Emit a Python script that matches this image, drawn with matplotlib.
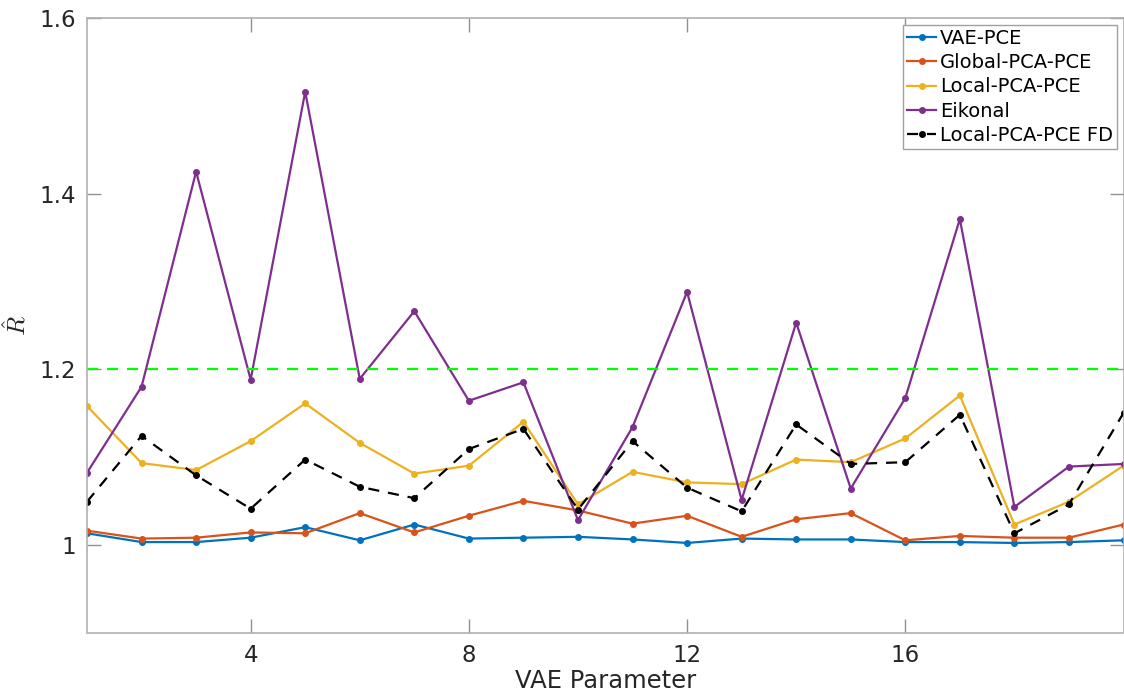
import matplotlib
matplotlib.use("Agg")
import matplotlib.pyplot as plt
from matplotlib.ticker import FixedLocator, FixedFormatter

plt.rcParams['mathtext.fontset'] = 'cm'

x = list(range(1, 21))
vae_pce = [1.013, 1.003, 1.003, 1.008, 1.020, 1.005, 1.023, 1.007, 1.008, 1.009,
           1.006, 1.002, 1.007, 1.006, 1.006, 1.003, 1.003, 1.002, 1.003, 1.005]
global_pca_pce = [1.016, 1.007, 1.008, 1.014, 1.013, 1.036, 1.014, 1.033, 1.050, 1.039,
                  1.024, 1.033, 1.009, 1.029, 1.036, 1.005, 1.010, 1.008, 1.008, 1.023]
local_pca_pce = [1.158, 1.093, 1.085, 1.118, 1.161, 1.116, 1.081, 1.090, 1.140, 1.046,
                 1.083, 1.071, 1.069, 1.097, 1.094, 1.121, 1.170, 1.023, 1.049, 1.090]
eikonal = [1.082, 1.180, 1.425, 1.188, 1.516, 1.189, 1.266, 1.164, 1.185, 1.028,
           1.134, 1.288, 1.051, 1.253, 1.064, 1.167, 1.371, 1.043, 1.089, 1.092]
local_pca_pce_fd = [1.049, 1.124, 1.079, 1.041, 1.097, 1.066, 1.053, 1.109, 1.132, 1.040,
                    1.118, 1.065, 1.038, 1.137, 1.092, 1.094, 1.148, 1.013, 1.046, 1.150]
threshold = 1.2

xticks = [4, 8, 12, 16]
yticks = [1.0, 1.2, 1.4, 1.6]
ytick_labels = ["1", "1.2", "1.4", "1.6"]

fig = plt.figure(figsize=(11.24, 6.94), dpi=100)
ax = fig.add_axes([87 / 1124, 61.5 / 694, 1036.5 / 1124, 614.5 / 694])

lw = 1.6
ms = 4
ax.plot(x, vae_pce, '-o', color='#0072BD', lw=lw, ms=ms, label='VAE-PCE')
ax.plot(x, global_pca_pce, '-o', color='#D95319', lw=lw, ms=ms, label='Global-PCA-PCE')
ax.plot(x, local_pca_pce, '-o', color='#EDB120', lw=lw, ms=ms, label='Local-PCA-PCE')
ax.plot(x, eikonal, '-o', color='#7E2F8E', lw=lw, ms=ms, label='Eikonal')
ax.plot(x, local_pca_pce_fd, '--o', color='black', lw=lw, ms=ms, dashes=(5, 4),
        label='Local-PCA-PCE FD')
ax.axhline(threshold, color='#00FF00', lw=1.6, ls=(0, (5, 4)))

ax.set_xlim(1, 20)
ax.set_ylim(0.9, 1.6)
ax.xaxis.set_major_locator(FixedLocator(xticks))
ax.yaxis.set_major_locator(FixedLocator(yticks))
ax.yaxis.set_major_formatter(FixedFormatter(ytick_labels))

for s in ax.spines.values():
    s.set_color('#b0b0b0')
    s.set_linewidth(1.2)
ax.tick_params(direction='in', length=10, width=1, color='#909090',
               labelsize=16.5, labelcolor='#262626', top=True, right=True, pad=8)

ax.set_xlabel('VAE Parameter', fontsize=17.5, color='#262626', labelpad=2)
ax.set_ylabel(r'$\hat{R}$', fontsize=18, color='#262626')
ax.yaxis.set_label_coords((30 - 87) / 1036.5, 0.5)

leg = ax.legend(loc='upper right', bbox_to_anchor=((1117 - 87) / 1036.5, 1 - 7 / 614.5),
                fontsize=14, handlelength=1.5, handletextpad=0.2, borderpad=0.2,
                labelspacing=0.27, fancybox=False, framealpha=1, borderaxespad=0)
leg.get_frame().set_edgecolor('#a0a0a0')
leg.get_frame().set_linewidth(1.0)

fig.savefig('out.png', dpi=100)
